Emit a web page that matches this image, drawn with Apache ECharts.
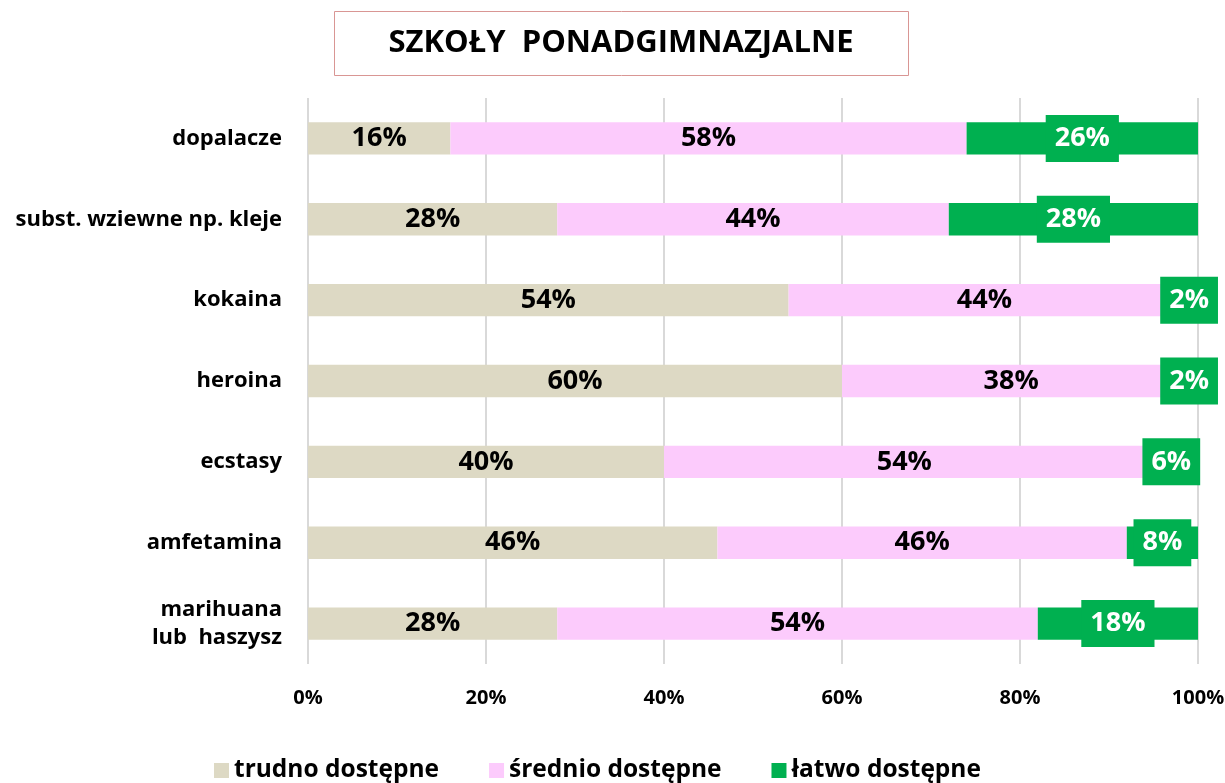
<!DOCTYPE html>
<html>
<head>
<meta charset="utf-8">
<script src="https://cdn.jsdelivr.net/npm/echarts@6/dist/echarts.min.js"></script>
<style>
  html, body { margin: 0; padding: 0; background: #ffffff; }
  #chart { width: 1225px; height: 783px; }
</style>
</head>
<body>
<div id="chart"></div>
<script>
// Dostępność substancji psychoaktywnych – szkoły ponadgimnazjalne
const categories = [
  'dopalacze',
  'subst. wziewne np. kleje',
  'kokaina',
  'heroina',
  'ecstasy',
  'amfetamina',
  'marihuana\nlub  haszysz'
];
const seriesNames = ['trudno dostępne', 'średnio dostępne', 'łatwo dostępne'];
const trudno  = [16, 28, 54, 60, 40, 46, 28];
const srednio = [58, 44, 44, 38, 54, 46, 54];
const latwo   = [26, 28, 2, 2, 6, 8, 18];
const tickLabels = ['0%', '20%', '40%', '60%', '80%', '100%'];
const colors = ['#DDD9C4', '#FCCBFC', '#00B050'];

const FONT = '"Open Sans", Lato, sans-serif';

const chart = echarts.init(document.getElementById('chart'), null, { renderer: 'canvas' });

function barSeries(name, data, color, labelStyle) {
  return {
    name: name,
    type: 'bar',
    stack: 'total',
    data: data,
    barCategoryGap: '60%',
    itemStyle: { color: color },
    emphasis: { disabled: true },
    label: Object.assign({
      show: true,
      position: 'inside',
      formatter: '{c}%',
      fontFamily: FONT,
      fontWeight: 'bold',
      fontSize: 27
    }, labelStyle)
  };
}

chart.setOption({
  animation: false,
  backgroundColor: '#ffffff',
  textStyle: { fontFamily: FONT },
  graphic: [{
    type: 'rect',
    shape: { x: 334.5, y: 11.5, width: 574, height: 64 },
    style: { fill: '#ffffff', stroke: '#D99694', lineWidth: 1 },
    z: 0
  }],
  title: {
    text: 'SZKOŁY  PONADGIMNAZJALNE',
    left: 621,
    top: 28,
    textAlign: 'center',
    padding: 0,
    textStyle: {
      fontFamily: FONT,
      fontWeight: 'bold',
      fontSize: 31,
      lineHeight: 31,
      color: '#000000'
    }
  },
  legend: {
    data: seriesNames,
    top: 753,
    left: 209,
    padding: 5,
    itemWidth: 15,
    itemHeight: 15,
    itemGap: 50,
    icon: 'rect',
    textStyle: {
      fontFamily: FONT,
      fontWeight: 'bold',
      fontSize: 24.5,
      lineHeight: 24,
      color: '#000000'
    }
  },
  grid: {
    left: 308,
    right: 27,
    top: 98,
    bottom: 119,
    containLabel: false,
    outerBoundsMode: 'none'
  },
  xAxis: {
    type: 'value',
    min: 0,
    max: 100,
    interval: 20,
    axisLine: { show: false },
    axisTick: { show: false },
    splitLine: { show: true, lineStyle: { color: '#D9D9D9', width: 2 } },
    axisLabel: {
      margin: 24,
      formatter: function (v) { return tickLabels[Math.round(v / 20)]; },
      fontFamily: FONT,
      fontWeight: 'bold',
      fontSize: 20,
      color: '#000000',
      hideOverlap: false
    }
  },
  yAxis: {
    type: 'category',
    data: categories,
    inverse: true,
    axisLine: { show: false },
    axisTick: { show: false },
    splitLine: { show: false },
    axisLabel: {
      margin: 26,
      fontFamily: FONT,
      fontWeight: 'bold',
      fontSize: 22,
      lineHeight: 28,
      color: '#000000'
    }
  },
  series: [
    barSeries(seriesNames[0], trudno, colors[0], { color: '#000000' }),
    barSeries(seriesNames[1], srednio, colors[1], { color: '#000000' }),
    barSeries(seriesNames[2], latwo, colors[2], {
      color: '#ffffff',
      backgroundColor: colors[2],
      padding: [10, 9, 10, 9],
      lineHeight: 27
    })
  ]
});
</script>
</body>
</html>
